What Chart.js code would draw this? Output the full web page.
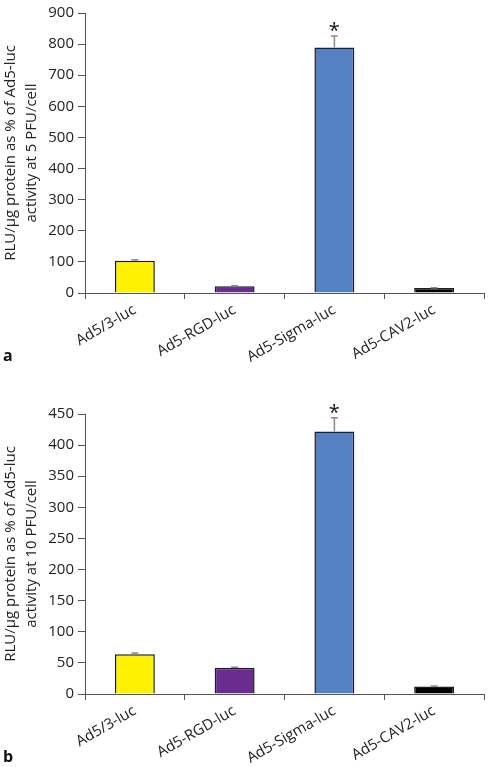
<!DOCTYPE html>
<html><head><meta charset="utf-8">
<script src="https://cdn.jsdelivr.net/npm/chart.js@4.4.0/dist/chart.umd.min.js"></script>
<style>
html,body{margin:0;padding:0;background:#fff;width:488px;height:767px;overflow:hidden;font-family:"Open Sans",sans-serif;}
.wrap{position:absolute;left:0;width:488px;}
.lab{position:absolute;left:3px;font:bold 16px "Open Sans",sans-serif;color:#111;}
</style></head>
<body>
<div class="wrap" style="top:0;height:375px"><canvas id="c1" width="488" height="375"></canvas></div>
<div class="wrap" style="top:380px;height:387px"><canvas id="c2" width="488" height="387"></canvas></div>
<div class="lab" style="top:344px">a</div>
<div class="lab" style="top:745px">b</div>
<script>
const categories = ['Ad5/3-luc', 'Ad5-RGD-luc', 'Ad5-Sigma-luc', 'Ad5-CAV2-luc'];
const valuesA = [104, 22, 789, 16];
const errorsA = [3, 1, 37, 1];
const valuesB = [64, 42, 422, 12];
const errorsB = [2, 1, 22, 1];
const significant = [false, false, true, false];
const barColors = ['#FFF200', '#6A2C8F', '#5480C4', '#000000'];
const titleA = ['RLU/µg protein as % of Ad5-luc', 'activity at 5 PFU/cell'];
const titleB = ['RLU/µg protein as % of Ad5-luc', 'activity at 10 PFU/cell'];

const errPlugin = {
  id: 'errbars',
  afterDatasetsDraw(chart, args, opts) {
    const ctx = chart.ctx;
    const meta = chart.getDatasetMeta(0);
    const ys = chart.scales.y;
    const vals = chart.data.datasets[0].data;
    ctx.save();
    meta.data.forEach((bar, i) => {
      const x = bar.x;
      const top = ys.getPixelForValue(vals[i] + opts.errors[i]);
      const yv = ys.getPixelForValue(vals[i]);
      ctx.strokeStyle = '#8a8a8a';
      ctx.lineWidth = 1.5;
      ctx.beginPath();
      ctx.moveTo(x, yv); ctx.lineTo(x, top);
      ctx.moveTo(x - 3.5, top); ctx.lineTo(x + 3.5, top);
      ctx.stroke();
      if (significant[i]) {
        ctx.fillStyle = '#111';
        ctx.font = '20px "Open Sans", sans-serif';
        ctx.textAlign = 'center';
        ctx.textBaseline = 'alphabetic';
        ctx.fillText('*', x, top + 1);
      }
    });
    ctx.restore();
  }
};

function make(id, values, errors, max, step, title, xh, padTop) {
  return new Chart(document.getElementById(id), {
    type: 'bar',
    data: { labels: categories, datasets: [{
      data: values, backgroundColor: barColors, borderColor: '#1c1c2a', borderWidth: 1.5,
      categoryPercentage: 1.0, barPercentage: 0.4 }] },
    plugins: [errPlugin],
    options: {
      responsive: false, animation: false,
      layout: { padding: { top: padTop, right: 4, left: 0, bottom: 0 } },
      plugins: { legend: { display: false }, tooltip: { enabled: false }, errbars: { errors: errors } },
      scales: {
        x: {
          grid: { display: true, drawOnChartArea: false, drawTicks: true, tickLength: 6, color: '#555', offset: true },
          border: { color: '#555', width: 1 },
          ticks: { color: '#222', font: { family: 'Open Sans', size: 15 }, minRotation: 30, maxRotation: 30, padding: 2 },
          afterFit(s) { s.height = xh; }
        },
        y: {
          min: 0, max: max,
          grid: { display: true, drawOnChartArea: false, drawTicks: true, tickLength: 7, color: '#555' },
          border: { color: '#555', width: 1 },
          ticks: { stepSize: step, color: '#222', font: { family: 'Open Sans', size: 15 }, padding: 4 },
          title: { display: true, text: title, color: '#222', font: { family: 'Open Sans', size: 15, lineHeight: 1.4 }, padding: { top: 0, bottom: 0 } },
          afterFit(s) { s.width = 85; }
        }
      }
    }
  });
}
make('c1', valuesA, errorsA, 900, 100, titleA, 82, 9);
make('c2', valuesB, errorsB, 450, 50, titleB, 73, 34);
</script>
</body></html>
